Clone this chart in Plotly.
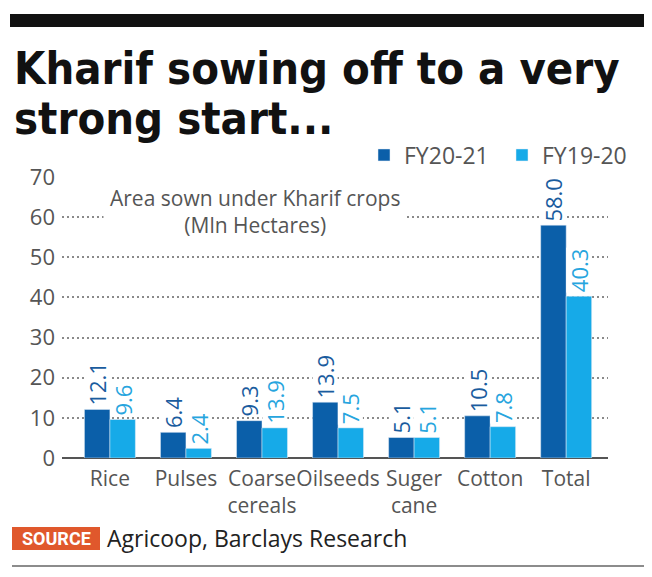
import plotly.graph_objects as go

categories = ["Rice", "Pulses", "Coarse<br>cereals", "Oilseeds", "Suger<br>cane", "Cotton", "Total"]
fy2021 = [12.1, 6.4, 9.3, 13.9, 5.1, 10.5, 58.0]
fy1920 = [9.6, 2.4, 7.5, 7.5, 5.1, 7.8, 40.3]
fy2021_labels = ["12.1", "6.4", "9.3", "13.9", "5.1", "10.5", "58.0"]
fy1920_labels = ["9.6", "2.4", "13.9", "7.5", "5.1", "7.8", "40.3"]
y_ticks = [0, 10, 20, 30, 40, 50, 60, 70]

DARK = "#0b5fa9"
LIGHT = "#16aae8"
DARK_TXT = "#1a5c9e"
LIGHT_TXT = "#27a5de"
GREY = "#555555"
FONT = "Open Sans"

# the page has an 8px body margin; size the figure so it fits the window
OFF = 8
W, H = 644, 569
L, R, T, B = 54, 44, 169, 119
pw, ph = W - L - R, H - T - B

def px(x):
    return (x - OFF - L) / pw

def py(y):
    return (H - B - (y - OFF)) / ph

fig = go.Figure()
fig.add_trace(go.Bar(name="FY20-21", x=categories, y=fy2021, marker_color=DARK))
fig.add_trace(go.Bar(name="FY19-20", x=categories, y=fy1920, marker_color=LIGHT))

ann = []
half = 0.335 * (pw / 7.18) / 2
for c, v, t in zip(categories, fy2021, fy2021_labels):
    ann.append(dict(x=c, y=v, xref="x", yref="y", text=t, textangle=-90, showarrow=False,
                    xanchor="center", yanchor="bottom", xshift=-half, yshift=3,
                    bgcolor="white", borderpad=0, height=24,
                    font=dict(family=FONT, size=22, color=DARK_TXT)))
for c, v, t in zip(categories, fy1920, fy1920_labels):
    ann.append(dict(x=c, y=v, xref="x", yref="y", text=t, textangle=-90, showarrow=False,
                    xanchor="center", yanchor="bottom", xshift=half, yshift=3,
                    bgcolor="white", borderpad=0, height=24,
                    font=dict(family=FONT, size=22, color=LIGHT_TXT)))

ann.append(dict(x=px(255), y=py(211), xref="paper", yref="paper",
                text="Area sown under Kharif crops<br>(Mln Hectares)", showarrow=False,
                xanchor="center", yanchor="middle", bgcolor="white", borderpad=6,
                font=dict(family=FONT, size=21, color=GREY)))

TITLE_FONT = dict(family="Liberation Sans Narrow, DejaVu Sans Condensed, Roboto", size=45, color="#111111")
ann.append(dict(x=px(12), y=py(87), xref="paper", yref="paper", text="<b>Kharif sowing off to a very</b>",
                showarrow=False, xanchor="left", yanchor="bottom", yshift=-10, font=TITLE_FONT))
ann.append(dict(x=px(12), y=py(137), xref="paper", yref="paper", text="<b>strong start...</b>",
                showarrow=False, xanchor="left", yanchor="bottom", yshift=-10, font=TITLE_FONT))

ann.append(dict(x=px(56), y=py(538), xref="paper", yref="paper", text="<b>SOURCE</b>",
                showarrow=False, xanchor="center", yanchor="middle",
                font=dict(family="Roboto", size=18, color="white")))
ann.append(dict(x=px(105), y=py(538), xref="paper", yref="paper", text="Agricoop, Barclays Research",
                showarrow=False, xanchor="left", yanchor="middle",
                font=dict(family=FONT, size=23, color="#222222")))

shapes = [
    dict(type="rect", xref="paper", yref="paper", x0=px(10), x1=px(645), y0=py(14), y1=py(27),
         fillcolor="#111111", line_width=0, layer="above"),
    dict(type="rect", xref="paper", yref="paper", x0=px(12), x1=px(100), y0=py(527), y1=py(550),
         fillcolor="#e0582c", line_width=0, layer="below"),
    dict(type="line", xref="paper", yref="paper", x0=px(12), x1=px(645), y0=py(566), y1=py(566),
         line=dict(color="#666666", width=1.5)),
]

fig.update_layout(
    width=W, height=H,
    margin=dict(l=L, r=R, t=T, b=B, pad=0),
    paper_bgcolor="white", plot_bgcolor="white",
    barmode="group", bargap=0.33, bargroupgap=0,
    showlegend=True,
    legend=dict(orientation="h", x=px(364), y=py(155), xanchor="left", yanchor="middle",
                font=dict(family=FONT, size=23, color=GREY), itemwidth=30,
                entrywidth=93, entrywidthmode="pixels",
                bgcolor="rgba(0,0,0,0)", tracegroupgap=0),
    annotations=ann,
    shapes=shapes,
    xaxis=dict(range=[-0.63, 6.55], showgrid=False, showline=False, ticks="", tickangle=0,
               tickfont=dict(family=FONT, size=21, color=GREY), ticklabelstandoff=6),
    yaxis=dict(range=[0, 70], tickvals=y_ticks, showline=False, ticks="",
               showgrid=True, gridcolor="#8a8a8a", gridwidth=1.5, griddash="1.5px,3.5px",
               zeroline=True, zerolinecolor="#555555", zerolinewidth=1.5,
               tickfont=dict(family=FONT, size=22, color=GREY), ticklabelstandoff=6),
)

fig.write_html("out.html")
